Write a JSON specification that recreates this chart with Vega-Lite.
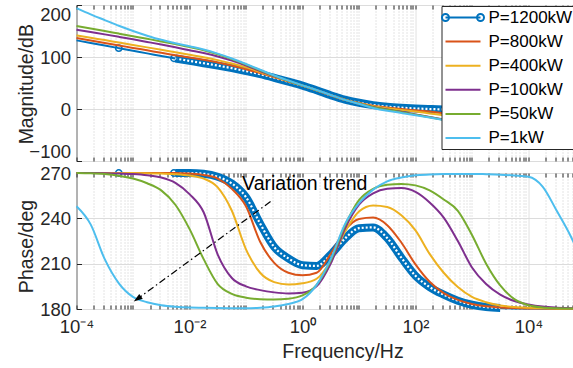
{
"$schema": "https://vega.github.io/schema/vega-lite/v6.json",
"background": "white",
"padding": {"left": 15.5, "top": 3, "right": 0, "bottom": 0},
"bounds": "flush",
"spacing": 12,
"datasets": {
"curves": [
{"s":"P=1200kW","f":0.0001,"m":132,"p":270},{"s":"P=1200kW","f":0.000178,"m":127,"p":270},{"s":"P=1200kW","f":0.000316,"m":122,"p":270},{"s":"P=1200kW","f":0.000562,"m":117,"p":270},{"s":"P=1200kW","f":0.001,"m":112,"p":270},{"s":"P=1200kW","f":0.00178,"m":107,"p":270},{"s":"P=1200kW","f":0.00316,"m":102,"p":270},{"s":"P=1200kW","f":0.00562,"m":97,"p":270},{"s":"P=1200kW","f":0.01,"m":92.5,"p":270},{"s":"P=1200kW","f":0.0178,"m":88,"p":269.5},{"s":"P=1200kW","f":0.0316,"m":83.5,"p":267.5},{"s":"P=1200kW","f":0.0562,"m":78.5,"p":263},{"s":"P=1200kW","f":0.1,"m":73,"p":254},{"s":"P=1200kW","f":0.178,"m":67,"p":236.5},{"s":"P=1200kW","f":0.316,"m":60,"p":221},{"s":"P=1200kW","f":0.562,"m":52.5,"p":213.5},{"s":"P=1200kW","f":1,"m":45,"p":209},{"s":"P=1200kW","f":1.78,"m":36,"p":208.5},{"s":"P=1200kW","f":3.16,"m":26.5,"p":216},{"s":"P=1200kW","f":5.62,"m":18,"p":226.5},{"s":"P=1200kW","f":10,"m":12,"p":233.5},{"s":"P=1200kW","f":17.8,"m":7.5,"p":234},{"s":"P=1200kW","f":31.6,"m":4.5,"p":227},{"s":"P=1200kW","f":56.2,"m":2.5,"p":214},{"s":"P=1200kW","f":100,"m":1,"p":202},{"s":"P=1200kW","f":178,"m":0,"p":194.5},{"s":"P=1200kW","f":316,"m":-0.8,"p":189.5},{"s":"P=1200kW","f":562,"m":-1.5,"p":185.5},{"s":"P=1200kW","f":1000,"m":-2.5,"p":182.8},{"s":"P=1200kW","f":1778,"m":-4,"p":181.3},{"s":"P=1200kW","f":3162,"m":-6,"p":180.7},{"s":"P=1200kW","f":5623,"m":-9,"p":180.4},{"s":"P=1200kW","f":10000,"m":-13,"p":180.3},{"s":"P=1200kW","f":17783,"m":-18,"p":180.2},{"s":"P=1200kW","f":31623,"m":-24,"p":180.1},{"s":"P=1200kW","f":56234,"m":-30,"p":180.1},{"s":"P=1200kW","f":70795,"m":-33,"p":180.1},
{"s":"P=800kW","f":0.0001,"m":136.5,"p":270},{"s":"P=800kW","f":0.000178,"m":131.8,"p":270},{"s":"P=800kW","f":0.000316,"m":127,"p":270},{"s":"P=800kW","f":0.000562,"m":122.3,"p":270},{"s":"P=800kW","f":0.001,"m":117.5,"p":270},{"s":"P=800kW","f":0.00178,"m":112.8,"p":270},{"s":"P=800kW","f":0.00316,"m":108,"p":270},{"s":"P=800kW","f":0.00562,"m":103.5,"p":270},{"s":"P=800kW","f":0.01,"m":99,"p":269.6},{"s":"P=800kW","f":0.0178,"m":94.5,"p":268.7},{"s":"P=800kW","f":0.0316,"m":89.5,"p":266.3},{"s":"P=800kW","f":0.0562,"m":83.5,"p":259.5},{"s":"P=800kW","f":0.1,"m":76.5,"p":248},{"s":"P=800kW","f":0.178,"m":69,"p":224.5},{"s":"P=800kW","f":0.316,"m":61,"p":210.5},{"s":"P=800kW","f":0.562,"m":53,"p":204},{"s":"P=800kW","f":1,"m":45,"p":202.3},{"s":"P=800kW","f":1.78,"m":36,"p":204},{"s":"P=800kW","f":3.16,"m":26.5,"p":216.5},{"s":"P=800kW","f":5.62,"m":18,"p":232},{"s":"P=800kW","f":10,"m":11.5,"p":239.5},{"s":"P=800kW","f":17.8,"m":6.5,"p":240.5},{"s":"P=800kW","f":31.6,"m":3,"p":235.5},{"s":"P=800kW","f":56.2,"m":0,"p":224},{"s":"P=800kW","f":100,"m":-2.5,"p":209.5},{"s":"P=800kW","f":178,"m":-5,"p":198},{"s":"P=800kW","f":316,"m":-8,"p":190.5},{"s":"P=800kW","f":562,"m":-11.5,"p":186},{"s":"P=800kW","f":1000,"m":-16,"p":183.3},{"s":"P=800kW","f":1778,"m":-20.5,"p":181.8},{"s":"P=800kW","f":3162,"m":-25.5,"p":181},{"s":"P=800kW","f":5623,"m":-30.5,"p":180.6},{"s":"P=800kW","f":10000,"m":-35.5,"p":180.4},{"s":"P=800kW","f":17783,"m":-40.5,"p":180.3},{"s":"P=800kW","f":31623,"m":-45.5,"p":180.2},{"s":"P=800kW","f":56234,"m":-50.5,"p":180.1},{"s":"P=800kW","f":70795,"m":-52.5,"p":180.1},
{"s":"P=400kW","f":0.0001,"m":141.7,"p":270},{"s":"P=400kW","f":0.000178,"m":137,"p":270},{"s":"P=400kW","f":0.000316,"m":132.5,"p":270},{"s":"P=400kW","f":0.000562,"m":127.8,"p":270},{"s":"P=400kW","f":0.001,"m":123.2,"p":270},{"s":"P=400kW","f":0.00178,"m":118.5,"p":269.9},{"s":"P=400kW","f":0.00316,"m":113.8,"p":269.6},{"s":"P=400kW","f":0.00562,"m":109,"p":269.2},{"s":"P=400kW","f":0.01,"m":104.3,"p":268.3},{"s":"P=400kW","f":0.0178,"m":99.5,"p":266.3},{"s":"P=400kW","f":0.0316,"m":94,"p":260.5},{"s":"P=400kW","f":0.0562,"m":87.5,"p":245},{"s":"P=400kW","f":0.1,"m":80,"p":219.5},{"s":"P=400kW","f":0.178,"m":71,"p":204},{"s":"P=400kW","f":0.316,"m":62,"p":197.8},{"s":"P=400kW","f":0.562,"m":53.5,"p":196.2},{"s":"P=400kW","f":1,"m":45,"p":197},{"s":"P=400kW","f":1.78,"m":36,"p":200},{"s":"P=400kW","f":3.16,"m":26.5,"p":212},{"s":"P=400kW","f":5.62,"m":18,"p":231},{"s":"P=400kW","f":10,"m":11,"p":244.5},{"s":"P=400kW","f":17.8,"m":5.5,"p":248.5},{"s":"P=400kW","f":31.6,"m":1.5,"p":247.5},{"s":"P=400kW","f":56.2,"m":-2,"p":242},{"s":"P=400kW","f":100,"m":-5,"p":232},{"s":"P=400kW","f":178,"m":-8.5,"p":216.5},{"s":"P=400kW","f":316,"m":-12,"p":204},{"s":"P=400kW","f":562,"m":-16.5,"p":194.5},{"s":"P=400kW","f":1000,"m":-21.5,"p":188},{"s":"P=400kW","f":1778,"m":-26.5,"p":184.5},{"s":"P=400kW","f":3162,"m":-31.5,"p":182.3},{"s":"P=400kW","f":5623,"m":-36.5,"p":181.3},{"s":"P=400kW","f":10000,"m":-41.5,"p":180.8},{"s":"P=400kW","f":17783,"m":-46.5,"p":180.5},{"s":"P=400kW","f":31623,"m":-51.5,"p":180.3},{"s":"P=400kW","f":56234,"m":-56.5,"p":180.2},{"s":"P=400kW","f":70795,"m":-58.5,"p":180.2},
{"s":"P=100kW","f":0.0001,"m":152.6,"p":270},{"s":"P=100kW","f":0.000178,"m":148,"p":270},{"s":"P=100kW","f":0.000316,"m":143.5,"p":269.9},{"s":"P=100kW","f":0.000562,"m":138.8,"p":269.7},{"s":"P=100kW","f":0.001,"m":134,"p":269.3},{"s":"P=100kW","f":0.00178,"m":129,"p":268.5},{"s":"P=100kW","f":0.00316,"m":124,"p":267},{"s":"P=100kW","f":0.00562,"m":118.7,"p":263.5},{"s":"P=100kW","f":0.01,"m":113,"p":256},{"s":"P=100kW","f":0.0178,"m":107.5,"p":244},{"s":"P=100kW","f":0.0316,"m":101,"p":216},{"s":"P=100kW","f":0.0562,"m":93,"p":200.5},{"s":"P=100kW","f":0.1,"m":83.5,"p":195},{"s":"P=100kW","f":0.178,"m":73,"p":192.5},{"s":"P=100kW","f":0.316,"m":63,"p":191},{"s":"P=100kW","f":0.562,"m":54,"p":190.3},{"s":"P=100kW","f":1,"m":45,"p":190.8},{"s":"P=100kW","f":1.78,"m":36,"p":195},{"s":"P=100kW","f":3.16,"m":26.5,"p":210},{"s":"P=100kW","f":5.62,"m":17.5,"p":233},{"s":"P=100kW","f":10,"m":10,"p":249},{"s":"P=100kW","f":17.8,"m":4,"p":256.5},{"s":"P=100kW","f":31.6,"m":-1,"p":259.5},{"s":"P=100kW","f":56.2,"m":-5.5,"p":260},{"s":"P=100kW","f":100,"m":-10.5,"p":257.5},{"s":"P=100kW","f":178,"m":-15.5,"p":250.5},{"s":"P=100kW","f":316,"m":-20.3,"p":240.5},{"s":"P=100kW","f":562,"m":-25,"p":225},{"s":"P=100kW","f":1000,"m":-30,"p":207.5},{"s":"P=100kW","f":1778,"m":-35,"p":196.5},{"s":"P=100kW","f":3162,"m":-40,"p":189.5},{"s":"P=100kW","f":5623,"m":-45,"p":185.3},{"s":"P=100kW","f":10000,"m":-50,"p":183},{"s":"P=100kW","f":17783,"m":-55,"p":181.6},{"s":"P=100kW","f":31623,"m":-60,"p":180.9},{"s":"P=100kW","f":56234,"m":-65,"p":180.5},{"s":"P=100kW","f":70795,"m":-67,"p":180.4},
{"s":"P=50kW","f":0.0001,"m":159.6,"p":270},{"s":"P=50kW","f":0.000178,"m":154.8,"p":269.8},{"s":"P=50kW","f":0.000316,"m":150,"p":269.3},{"s":"P=50kW","f":0.000562,"m":145,"p":268.2},{"s":"P=50kW","f":0.001,"m":140,"p":266.3},{"s":"P=50kW","f":0.00178,"m":135,"p":263.2},{"s":"P=50kW","f":0.00316,"m":130,"p":258.5},{"s":"P=50kW","f":0.00562,"m":124.8,"p":249},{"s":"P=50kW","f":0.01,"m":119.3,"p":233},{"s":"P=50kW","f":0.0178,"m":113,"p":213},{"s":"P=50kW","f":0.0316,"m":105.3,"p":196.5},{"s":"P=50kW","f":0.0562,"m":96,"p":190},{"s":"P=50kW","f":0.1,"m":85.5,"p":187.5},{"s":"P=50kW","f":0.178,"m":74.5,"p":186.5},{"s":"P=50kW","f":0.316,"m":64,"p":186.3},{"s":"P=50kW","f":0.562,"m":54.3,"p":186.8},{"s":"P=50kW","f":1,"m":45.2,"p":189},{"s":"P=50kW","f":1.78,"m":36.2,"p":196},{"s":"P=50kW","f":3.16,"m":26.7,"p":212},{"s":"P=50kW","f":5.62,"m":17.5,"p":235},{"s":"P=50kW","f":10,"m":10,"p":252},{"s":"P=50kW","f":17.8,"m":3.5,"p":259.5},{"s":"P=50kW","f":31.6,"m":-1.5,"p":262.2},{"s":"P=50kW","f":56.2,"m":-6,"p":262.8},{"s":"P=50kW","f":100,"m":-10.8,"p":261.8},{"s":"P=50kW","f":178,"m":-15.8,"p":258.5},{"s":"P=50kW","f":316,"m":-20.6,"p":252.5},{"s":"P=50kW","f":562,"m":-25.5,"p":245},{"s":"P=50kW","f":1000,"m":-30.5,"p":229},{"s":"P=50kW","f":1778,"m":-35.5,"p":210},{"s":"P=50kW","f":3162,"m":-40.5,"p":195.6},{"s":"P=50kW","f":5623,"m":-45.5,"p":186.5},{"s":"P=50kW","f":10000,"m":-50.5,"p":182.5},{"s":"P=50kW","f":17783,"m":-55.5,"p":181},{"s":"P=50kW","f":31623,"m":-60.5,"p":180.5},{"s":"P=50kW","f":56234,"m":-65.5,"p":180.3},{"s":"P=50kW","f":70795,"m":-67.5,"p":180.2},
{"s":"P=1kW","f":0.0001,"m":194,"p":248},{"s":"P=1kW","f":0.000178,"m":182,"p":236},{"s":"P=1kW","f":0.000316,"m":171,"p":213},{"s":"P=1kW","f":0.000562,"m":160,"p":197},{"s":"P=1kW","f":0.001,"m":150,"p":188},{"s":"P=1kW","f":0.00178,"m":141,"p":184.5},{"s":"P=1kW","f":0.00316,"m":133,"p":182.5},{"s":"P=1kW","f":0.00562,"m":126.5,"p":181.5},{"s":"P=1kW","f":0.01,"m":120.5,"p":181},{"s":"P=1kW","f":0.0178,"m":114.5,"p":180.8},{"s":"P=1kW","f":0.0316,"m":106.5,"p":180.6},{"s":"P=1kW","f":0.0562,"m":97,"p":180.5},{"s":"P=1kW","f":0.1,"m":86.5,"p":180.5},{"s":"P=1kW","f":0.178,"m":75.5,"p":180.8},{"s":"P=1kW","f":0.316,"m":64.5,"p":181.6},{"s":"P=1kW","f":0.562,"m":54.8,"p":183.3},{"s":"P=1kW","f":1,"m":45.5,"p":186.5},{"s":"P=1kW","f":1.78,"m":36.5,"p":196},{"s":"P=1kW","f":3.16,"m":27,"p":213},{"s":"P=1kW","f":5.62,"m":17.5,"p":236},{"s":"P=1kW","f":10,"m":10,"p":250},{"s":"P=1kW","f":17.8,"m":2,"p":259},{"s":"P=1kW","f":31.6,"m":-3.5,"p":264.5},{"s":"P=1kW","f":56.2,"m":-7.5,"p":267},{"s":"P=1kW","f":100,"m":-12,"p":268.5},{"s":"P=1kW","f":178,"m":-16.5,"p":269},{"s":"P=1kW","f":316,"m":-21,"p":269.3},{"s":"P=1kW","f":562,"m":-26,"p":269.4},{"s":"P=1kW","f":1000,"m":-31,"p":269.4},{"s":"P=1kW","f":1778,"m":-36,"p":269.2},{"s":"P=1kW","f":3162,"m":-41,"p":268.9},{"s":"P=1kW","f":5623,"m":-46,"p":268.3},{"s":"P=1kW","f":10000,"m":-51,"p":267.5},{"s":"P=1kW","f":17783,"m":-56,"p":261},{"s":"P=1kW","f":31623,"m":-61,"p":245},{"s":"P=1kW","f":56234,"m":-66,"p":228},{"s":"P=1kW","f":70795,"m":-68,"p":220}
],
"markers": [{"f":0.00056,"m":117,"p":270},{"f":0.0053,"m":97.5,"p":270}],
"arrow": [{"f":0.272,"p":251.1,"f2":0.00103,"p2":184.9}],
"arrowhead": [{"f":0.00103,"p":184.9}],
"label": [{"f":0.0853,"p":262.7,"t":"Variation trend"}]
},
"vconcat": [
{
"width": 500, "height": 156,
"encoding": {
  "x": {"field":"f","type":"quantitative","scale":{"type":"log","domain":[0.0001,70795],"nice":false},"axis":null},
  "y": {"field":"m","type":"quantitative","scale":{"domain":[-100,200],"nice":false,"zero":false},
        "axis":{"values":[-100,0,100,200],"title":"Magnitude/dB","titleX":-43.7,"titleY":78.7,"titleAngle":270,"titleBaseline":"alphabetic","titleAlign":"center","labelFlush":true,"labelPadding":11,"tickSize":-5,"grid":true}}
},
"layer": [
  {"data":{"name":"curves"},"transform":[{"filter":"datum.s=='P=1200kW'"}],
   "mark":{"type":"line","strokeWidth":2,"interpolate":"monotone"},
   "encoding":{
     "x":{"field":"f","type":"quantitative","scale":{"type":"log","domain":[0.0001,70795],"nice":false},
          "axis":{"orient":"bottom","values":[0.0001,0.0002,0.0003,0.0004,0.0005,0.0006,0.0007,0.0008,0.0009,0.001,0.002,0.003,0.004,0.005,0.006,0.007,0.008,0.009,0.01,0.02,0.03,0.04,0.05,0.06,0.07,0.08,0.09,0.1,0.2,0.3,0.4,0.5,0.6,0.7,0.8,0.9,1,2,3,4,5,6,7,8,9,10,20,30,40,50,60,70,80,90,100,200,300,400,500,600,700,800,900,1000,2000,3000,4000,5000,6000,7000,8000,9000,10000,20000,30000,40000,50000,60000,70000],
                  "labels":false,"title":null,"tickSize":-4,"grid":true,
                  "gridColor":{"condition":{"test":"indexof([0.0001,0.01,1,100,10000], datum.value) >= 0","value":"#dcdcdc"},"value":"#c8c8c8"},
                  "gridDash":{"condition":{"test":"indexof([0.0001,0.01,1,100,10000], datum.value) >= 0","value":[1,0]},"value":[1,2]}}},
     "color":{"field":"s","type":"nominal","scale":{"domain":["P=1200kW","P=800kW","P=400kW","P=100kW","P=50kW","P=1kW"],"range":["#0072BD","#D95319","#EDB120","#7E2F8E","#77AC30","#4DBEEE"]},
              "legend":{"title":null,"orient":"top-right","offset":1,"fillColor":"white","strokeColor":"#262626","padding":3,"labelFont":"Liberation Sans","labelFontSize":17,"labelColor":"#000","symbolType":"M-3.5,0H3.5","symbolSize":100,"symbolStrokeWidth":2,"rowPadding":6.1,"labelOffset":17,"symbolOffset":10,
                        "encode":{"symbols":{"update":{"shape":{"signal":"datum.value === 'P=1200kW' ? 'M-3.5,0H3.5M-2.8,0A0.7,0.7,0,1,1,-4.2,0A0.7,0.7,0,1,1,-2.8,0M4.2,0A0.7,0.7,0,1,1,2.8,0A0.7,0.7,0,1,1,4.2,0' : 'M-3.5,0H3.5'"},"fill":{"value":"transparent"}}}}}}
   }},
  {"data":{"name":"curves"},"transform":[{"filter":"datum.s=='P=1200kW' && datum.f >= 0.005 && datum.f <= 3200"}],
   "mark":{"type":"line","strokeWidth":8,"color":"#0072BD","interpolate":"monotone"}},
  {"data":{"name":"curves"},"transform":[{"filter":"datum.s=='P=1200kW' && datum.f >= 0.005 && datum.f <= 3200"}],
   "mark":{"type":"line","strokeWidth":2.2,"color":"white","strokeDash":[2,2],"interpolate":"monotone"}},
  {"data":{"name":"markers"},"mark":{"type":"point","shape":"circle","size":40,"strokeWidth":1.5,"color":"#0072BD","filled":false,"opacity":1}},
  {"data":{"name":"curves"},"transform":[{"filter":"datum.s!='P=1200kW'"}],
   "mark":{"type":"line","strokeWidth":2,"interpolate":"monotone"},
   "encoding":{
     "x":{"field":"f","type":"quantitative","scale":{"type":"log","domain":[0.0001,70795],"nice":false},
          "axis":{"orient":"top","values":[0.0001,0.0002,0.0003,0.0004,0.0005,0.0006,0.0007,0.0008,0.0009,0.001,0.002,0.003,0.004,0.005,0.006,0.007,0.008,0.009,0.01,0.02,0.03,0.04,0.05,0.06,0.07,0.08,0.09,0.1,0.2,0.3,0.4,0.5,0.6,0.7,0.8,0.9,1,2,3,4,5,6,7,8,9,10,20,30,40,50,60,70,80,90,100,200,300,400,500,600,700,800,900,1000,2000,3000,4000,5000,6000,7000,8000,9000,10000,20000,30000,40000,50000,60000,70000],
                  "labels":false,"title":null,"tickSize":-4,"grid":false}},
     "color":{"field":"s","type":"nominal","scale":{"domain":["P=1200kW","P=800kW","P=400kW","P=100kW","P=50kW","P=1kW"],"range":["#0072BD","#D95319","#EDB120","#7E2F8E","#77AC30","#4DBEEE"]},
              "legend":{"title":null,"orient":"top-right","offset":1,"fillColor":"white","strokeColor":"#262626","padding":3,"labelFont":"Liberation Sans","labelFontSize":17,"labelColor":"#000","symbolType":"M-3.5,0H3.5","symbolSize":100,"symbolStrokeWidth":2,"rowPadding":6.1,"labelOffset":17,"symbolOffset":10,
                        "encode":{"symbols":{"update":{"shape":{"signal":"datum.value === 'P=1200kW' ? 'M-3.5,0H3.5M-2.8,0A0.7,0.7,0,1,1,-4.2,0A0.7,0.7,0,1,1,-2.8,0M4.2,0A0.7,0.7,0,1,1,2.8,0A0.7,0.7,0,1,1,4.2,0' : 'M-3.5,0H3.5'"},"fill":{"value":"transparent"}}}}}}
   }}
],
"resolve": {"axis": {"x": "independent"}}
},
{
"width": 500, "height": 136,
"encoding": {
  "x": {"field":"f","type":"quantitative","scale":{"type":"log","domain":[0.0001,70795],"nice":false},"axis":null},
  "y": {"field":"p","type":"quantitative","scale":{"domain":[180,270],"nice":false,"zero":false},
        "axis":{"values":[180,210,240,270],"title":"Phase/deg","titleX":-43.7,"titleY":73,"titleAngle":270,"titleBaseline":"alphabetic","titleAlign":"center","labelFlush":false,"labelPadding":11,"tickSize":-5,"grid":true}}
},
"layer": [
  {"data":{"name":"curves"},"transform":[{"filter":"datum.s=='P=1200kW'"}],
   "mark":{"type":"line","strokeWidth":2,"interpolate":"monotone"},
   "encoding":{
     "x":{"field":"f","type":"quantitative","scale":{"type":"log","domain":[0.0001,70795],"nice":false},
          "axis":{"orient":"bottom","values":[0.0001,0.0002,0.0003,0.0004,0.0005,0.0006,0.0007,0.0008,0.0009,0.001,0.002,0.003,0.004,0.005,0.006,0.007,0.008,0.009,0.01,0.02,0.03,0.04,0.05,0.06,0.07,0.08,0.09,0.1,0.2,0.3,0.4,0.5,0.6,0.7,0.8,0.9,1,2,3,4,5,6,7,8,9,10,20,30,40,50,60,70,80,90,100,200,300,400,500,600,700,800,900,1000,2000,3000,4000,5000,6000,7000,8000,9000,10000,20000,30000,40000,50000,60000,70000],
                  "labelExpr":"datum.value==0.0001?'10⁻⁴':datum.value==0.01?'10⁻²':datum.value==1?'10⁰':datum.value==100?'10²':datum.value==10000?'10⁴':''",
                  "labelOverlap":false,"labelFlush":false,"labelPadding":12,"labelFontSize":18.5,
                  "title":"Frequency/Hz","titleX":266,"titleY":48,"titleBaseline":"alphabetic","titleAlign":"center",
                  "tickSize":-4,"grid":true,
                  "gridColor":{"condition":{"test":"indexof([0.0001,0.01,1,100,10000], datum.value) >= 0","value":"#dcdcdc"},"value":"#c8c8c8"},
                  "gridDash":{"condition":{"test":"indexof([0.0001,0.01,1,100,10000], datum.value) >= 0","value":[1,0]},"value":[1,2]}}},
     "color":{"field":"s","type":"nominal","scale":{"domain":["P=1200kW","P=800kW","P=400kW","P=100kW","P=50kW","P=1kW"],"range":["#0072BD","#D95319","#EDB120","#7E2F8E","#77AC30","#4DBEEE"]},"legend":null}
   }},
  {"data":{"name":"curves"},"transform":[{"filter":"datum.s=='P=1200kW' && datum.f >= 0.005 && datum.f <= 3200"}],
   "mark":{"type":"line","strokeWidth":8,"color":"#0072BD","interpolate":"monotone"}},
  {"data":{"name":"curves"},"transform":[{"filter":"datum.s=='P=1200kW' && datum.f >= 0.005 && datum.f <= 3200"}],
   "mark":{"type":"line","strokeWidth":2.2,"color":"white","strokeDash":[2,2],"interpolate":"monotone"}},
  {"data":{"name":"markers"},"mark":{"type":"point","shape":"circle","size":40,"strokeWidth":1.5,"color":"#0072BD","filled":false,"opacity":1}},
  {"data":{"name":"curves"},"transform":[{"filter":"datum.s!='P=1200kW'"}],
   "mark":{"type":"line","strokeWidth":2,"interpolate":"monotone"},
   "encoding":{
     "x":{"field":"f","type":"quantitative","scale":{"type":"log","domain":[0.0001,70795],"nice":false},
          "axis":{"orient":"top","values":[0.0001,0.0002,0.0003,0.0004,0.0005,0.0006,0.0007,0.0008,0.0009,0.001,0.002,0.003,0.004,0.005,0.006,0.007,0.008,0.009,0.01,0.02,0.03,0.04,0.05,0.06,0.07,0.08,0.09,0.1,0.2,0.3,0.4,0.5,0.6,0.7,0.8,0.9,1,2,3,4,5,6,7,8,9,10,20,30,40,50,60,70,80,90,100,200,300,400,500,600,700,800,900,1000,2000,3000,4000,5000,6000,7000,8000,9000,10000,20000,30000,40000,50000,60000,70000],
                  "labels":false,"title":null,"tickSize":-4,"grid":false}},
     "color":{"field":"s","type":"nominal","scale":{"domain":["P=1200kW","P=800kW","P=400kW","P=100kW","P=50kW","P=1kW"],"range":["#0072BD","#D95319","#EDB120","#7E2F8E","#77AC30","#4DBEEE"]},"legend":null}
   }},
  {"data":{"name":"arrow"},"mark":{"type":"rule","strokeDash":[7,3,1.5,3],"strokeWidth":1.2,"color":"#000"},
   "encoding":{"x2":{"field":"f2"},"y2":{"field":"p2"}}},
  {"data":{"name":"arrowhead"},"mark":{"type":"point","shape":"M0,0L-0.6,1.8L0.6,1.8Z","filled":true,"color":"#000","size":100,"angle":234,"opacity":1}},
  {"data":{"name":"label"},"mark":{"type":"text","align":"left","baseline":"middle","fontSize":19.5,"font":"Liberation Sans","color":"#000"},
   "encoding":{"text":{"field":"t"}}}
],
"resolve": {"axis": {"x": "independent"}}
}
],
"resolve": {"scale": {"color": "independent"}, "legend": {"color": "independent"}},
"config": {
  "font": "Liberation Sans",
  "view": {"stroke": "#262626", "strokeWidth": 1},
  "axis": {"labelFont": "Liberation Sans", "titleFont": "Liberation Sans", "labelColor": "#262626", "titleColor": "#262626", "labelFontSize": 18.5, "titleFontSize": 19.5, "titleFontWeight": "normal", "domain": false, "tickColor": "#262626", "gridColor": "#dcdcdc", "gridOpacity": 1, "gridWidth": 1}
}
}
